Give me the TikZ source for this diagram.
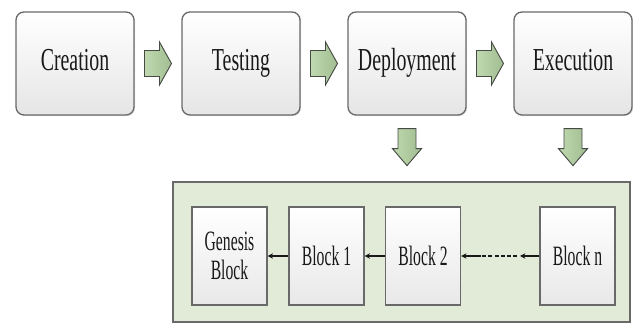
\documentclass[tikz,border=0pt]{standalone}
\usepackage{fontspec}
\setmainfont{Liberation Serif}
\newfontfamily\stagefont[FakeStretch=0.62]{Liberation Serif}
\newfontfamily\blockfont[FakeStretch=0.56]{Liberation Serif}
\usetikzlibrary{shadows,calc,arrows.meta}

\definecolor{borderGray}{RGB}{105,105,105}
\definecolor{ledgerFill}{RGB}{226,234,216}
\definecolor{arrowGreen}{RGB}{180,210,162}
\definecolor{arrowEdge}{RGB}{70,75,68}
\definecolor{inkDark}{RGB}{25,25,25}

\tikzset{
  stage/.style={draw=borderGray, line width=1pt, rounded corners=6pt,
    top color=white, bottom color=gray!20, text=inkDark,
    minimum width=88.5pt, minimum height=77.25pt, inner sep=0pt,
    text height=16pt, text depth=5pt,
    font=\stagefont\fontsize{24}{26}\selectfont,
    drop shadow={opacity=0.25, shadow xshift=0.8pt, shadow yshift=-0.8pt}},
  chainblock/.style={draw=borderGray, line width=1pt,
    top color=white, bottom color=gray!18, text=inkDark,
    minimum width=56.25pt, minimum height=73.5pt, inner sep=0pt, align=center,
    font=\blockfont\fontsize{21}{21.5}\selectfont,
    drop shadow={opacity=0.2, shadow xshift=0.6pt, shadow yshift=-0.6pt}},
  ledger/.style={draw=borderGray, line width=1.2pt, fill=ledgerFill},
  blockarrow/.style={draw=arrowEdge, line width=0.7pt, line join=miter,
    left color=arrowGreen!85!white, right color=arrowGreen!90!black},
  link/.style={draw=inkDark, line width=1.1pt, -{Stealth[length=4pt,width=4pt]}},
  dotlink/.style={draw=inkDark, line width=1.1pt, dash pattern=on 3pt off 1.6pt},
  rarrow/.pic={
    \path[blockarrow] (-13.5,-13) -- (1.5,-13) -- (1.5,-21.5) -- (13.5,0)
      -- (1.5,21.5) -- (1.5,13) -- (-13.5,13) -- cycle;},
  darrow/.pic={
    \path[blockarrow] (-9,-18.5) -- (9,-18.5) -- (9,1.5) -- (14.5,1.5)
      -- (0,18.5) -- (-14.5,1.5) -- (-9,1.5) -- cycle;}
}

\begin{document}
\begin{tikzpicture}[x=0.75pt,y=-0.75pt]
\useasboundingbox (0,0) rectangle (633,327);

% lifecycle stages
\node[stage] (creation) at (75,63.5)  {Creation};
\node[stage] (testing)  at (241,63.5) {Testing};
\node[stage] (deploy)   at (407,63.5) {Deployment};
\node[stage] (execute)  at (573,63.5) {Execution};

\pic at ($(creation.east)!0.5!(testing.west)$) {rarrow};
\pic at ($(testing.east)!0.5!(deploy.west)$)   {rarrow};
\pic at ($(deploy.east)!0.5!(execute.west)$)   {rarrow};

\pic at ($(deploy.south)+(0,31.5)$)  {darrow};
\pic at ($(execute.south)+(0,31.5)$) {darrow};

% the chain of blocks
\path[ledger] (173,182) rectangle (630,322);

\node[chainblock] (genesis) at (229.5,256) {Genesis\\Block};
\node[chainblock] (b1)      at (326.5,256) {Block 1};
\node[chainblock] (b2)      at (423,256)   {Block 2};
\node[chainblock] (bn)      at (577.5,256) {Block n};

\coordinate (gapR) at (520,256);
\coordinate (gapL) at (481,256);

\draw[link] (b1.west) -- (genesis.east);
\draw[link] (b2.west) -- (b1.east);
\draw[link] (bn.west) -- (gapR);
\draw[dotlink] ($(gapR)+(-3,0)$) -- (gapL);
\draw[link] (gapL) -- (b2.east);
\end{tikzpicture}
\end{document}
